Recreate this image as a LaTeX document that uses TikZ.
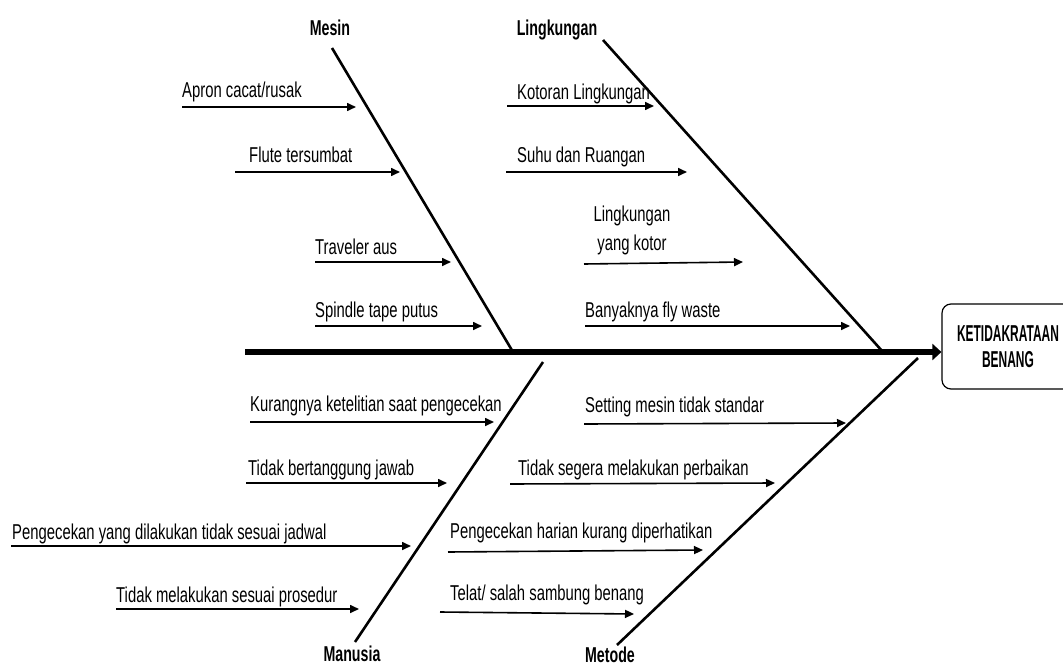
\documentclass[tikz,border=0pt]{standalone}
\usepackage{fontspec}
\setmainfont{Liberation Sans}
\newfontfamily\narrowfont[FakeStretch=0.69]{Liberation Sans}
\newfontfamily\labfont[FakeStretch=0.66]{Liberation Sans}
\newfontfamily\boxfont[FakeStretch=0.52]{Liberation Sans}
\usetikzlibrary{arrows.meta}
\begin{document}
\begin{tikzpicture}[x=1pt,y=-1pt,
  cause/.style={anchor=base west,inner sep=0pt,font={\narrowfont\fontsize{21.5}{29}\selectfont}},
  catlabel/.style={anchor=base,inner sep=0pt,font={\labfont\bfseries\fontsize{21.5}{26}\selectfont}},
  effect/.style={draw,line width=1.2pt,rounded corners=9pt,minimum width=132pt,minimum height=85pt,
    align=center,inner sep=0pt,font={\boxfont\bfseries\fontsize{23}{26}\selectfont}},
  causearrow/.style={line width=1.6pt,-{Triangle[length=9pt,width=8pt]}},
  bone/.style={line width=2.6pt},
  spine/.style={line width=6pt,-{Triangle[length=9pt,width=16pt]}}]
\clip (0,0) rectangle (1063,666);
\fill[white] (0,0) rectangle (1063,666);

% effect box
\node[effect] (effect) at (1008,346.5) {KETIDAKRATAAN\\BENANG};

% spine
\coordinate (sS) at (245,352);
\draw[spine] (sS) -- (sS -| effect.west);

% bones
\coordinate (mT) at (332,48);  \coordinate (mB) at (513,352);
\coordinate (lT) at (603,40);  \coordinate (lB) at (883,352);
\coordinate (uT) at (543,362); \coordinate (uB) at (355,642);
\coordinate (eT) at (918,358); \coordinate (eB) at (617,645);
\draw[bone] (mT) -- (mB);
\draw[bone] (lT) -- (lB);
\draw[bone] (uT) -- (uB);
\draw[bone] (eT) -- (eB);

% category labels
\node[catlabel] (mesin) at (330,36) {Mesin};
\node[catlabel] (lingk) at (557,36) {Lingkungan};
\node[catlabel] (manusia) at (352,661) {Manusia};
\node[catlabel] (metode) at (610,662) {Metode};

% Mesin causes
\node[cause] (c1) at (182,98) {Apron cacat/rusak};
\coordinate (a1s) at (182,107); \coordinate (a1e) at (356,107);
\draw[causearrow] (a1s) -- (a1e);
\node[cause] (c2) at (249,162) {Flute tersumbat};
\coordinate (a2s) at (235,172); \coordinate (a2e) at (400,172);
\draw[causearrow] (a2s) -- (a2e);
\node[cause] (c3) at (315,254) {Traveler aus};
\coordinate (a3s) at (315,262); \coordinate (a3e) at (451,262);
\draw[causearrow] (a3s) -- (a3e);
\node[cause] (c4) at (315,317) {Spindle tape putus};
\coordinate (a4s) at (315,326); \coordinate (a4e) at (482,326);
\draw[causearrow] (a4s) -- (a4e);

% Lingkungan causes
\node[cause] (c5) at (517,100) {Kotoran Lingkungan};
\coordinate (a5s) at (507,106); \coordinate (a5e) at (654,106);
\draw[causearrow] (a5s) -- (a5e);
\node[cause] (c6) at (517,162) {Suhu dan Ruangan};
\coordinate (a6s) at (506,172); \coordinate (a6e) at (687,172);
\draw[causearrow] (a6s) -- (a6e);
\node[inner sep=0pt,align=center,font={\narrowfont\fontsize{21.5}{29}\selectfont}] (c7) at (632,230) {Lingkungan\\yang kotor};
\coordinate (a7s) at (584,264); \coordinate (a7e) at (743,262);
\draw[causearrow] (a7s) -- (a7e);
\node[cause] (c8) at (585,317) {Banyaknya fly waste};
\coordinate (a8s) at (585,326); \coordinate (a8e) at (850,326);
\draw[causearrow] (a8s) -- (a8e);

% Manusia causes
\node[cause] (c9) at (250,411) {Kurangnya ketelitian saat pengecekan};
\coordinate (a9s) at (250,422); \coordinate (a9e) at (494,422);
\draw[causearrow] (a9s) -- (a9e);
\node[cause] (c10) at (248,475) {Tidak bertanggung jawab};
\coordinate (a10s) at (246,483); \coordinate (a10e) at (447,483);
\draw[causearrow] (a10s) -- (a10e);
\node[cause] (c11) at (12,539) {Pengecekan yang dilakukan tidak sesuai jadwal};
\coordinate (a11s) at (11,546); \coordinate (a11e) at (411,546);
\draw[causearrow] (a11s) -- (a11e);
\node[cause] (c12) at (116,602) {Tidak melakukan sesuai prosedur};
\coordinate (a12s) at (116,609); \coordinate (a12e) at (359,609);
\draw[causearrow] (a12s) -- (a12e);

% Metode causes
\node[cause] (c13) at (585,412) {Setting mesin tidak standar};
\coordinate (a13s) at (584,424); \coordinate (a13e) at (846,423);
\draw[causearrow] (a13s) -- (a13e);
\node[cause] (c14) at (518,475) {Tidak segera melakukan perbaikan};
\coordinate (a14s) at (510,484); \coordinate (a14e) at (775,483);
\draw[causearrow] (a14s) -- (a14e);
\node[cause] (c15) at (450,538) {Pengecekan harian kurang diperhatikan};
\coordinate (a15s) at (448,552); \coordinate (a15e) at (703,550);
\draw[causearrow] (a15s) -- (a15e);
\node[cause] (c16) at (450,600) {Telat/ salah sambung benang};
\coordinate (a16s) at (440,612); \coordinate (a16e) at (634,614);
\draw[causearrow] (a16s) -- (a16e);
\end{tikzpicture}
\end{document}
